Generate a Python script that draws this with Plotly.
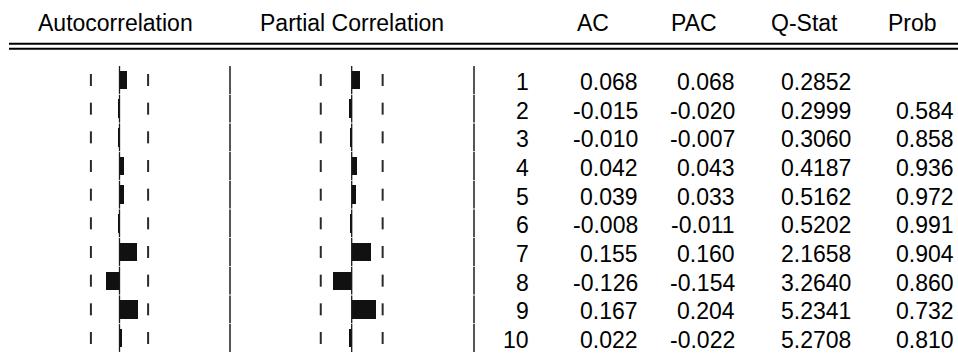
import plotly.graph_objects as go

# ---------------- data ----------------
lags = [1, 2, 3, 4, 5, 6, 7, 8, 9, 10]
ac = [0.068, -0.015, -0.010, 0.042, 0.039, -0.008, 0.155, -0.126, 0.167, 0.022]
pac = [0.068, -0.020, -0.007, 0.043, 0.033, -0.011, 0.160, -0.154, 0.204, -0.022]
q_stat = [0.2852, 0.2999, 0.3060, 0.4187, 0.5162, 0.5202, 2.1658, 3.2640, 5.2341, 5.2708]
prob = [None, 0.584, 0.858, 0.936, 0.972, 0.991, 0.904, 0.860, 0.732, 0.810]
conf_bound = 0.26
col_headers = ["AC", "PAC", "Q-Stat", "Prob"]
panel_headers = ["Autocorrelation", "Partial Correlation"]

# ---------------- layout constants (pixels) ----------------
W, H = 958, 353
row0_px, row_px = 80.0, 28.667          # centre of lag 1, row spacing
ac_zero_px, ac_scale = 119.5, 110.0     # px per unit correlation
pac_zero_px, pac_scale = 351.7, 119.0
sep_px = [230, 474]
lag_right, ac_right, pac_right, q_right, prob_right = 531, 640, 737, 853, 956
hdr_centres = [593, 694, 804, 912]
FONT = "Arial, Liberation Sans, sans-serif"
FS = 23

y_top = 1 - row0_px / row_px
y_bot = 1 + (H - row0_px) / row_px

fig = go.Figure()

# bars
fig.add_trace(go.Bar(x=ac, y=lags, orientation="h", width=0.64, base=0,
                     marker=dict(color="#111111", line=dict(width=0)),
                     xaxis="x", yaxis="y", hoverinfo="skip"))
fig.add_trace(go.Bar(x=pac, y=lags, orientation="h", width=0.64, base=0,
                     marker=dict(color="#111111", line=dict(width=0)),
                     xaxis="x2", yaxis="y", hoverinfo="skip"))


def segs(xval, half):
    xs, ys = [], []
    for l in lags:
        xs += [xval, xval, None]
        ys += [l - half, l + half, None]
    return xs, ys


# zero lines and confidence-bound ticks
for ax in ["x", "x2"]:
    xs, ys = segs(0, 0.485)
    fig.add_trace(go.Scatter(x=xs, y=ys, mode="lines", xaxis=ax, yaxis="y",
                             line=dict(color="#1a1a1a", width=1.3), hoverinfo="skip"))
    for sgn in (-1, 1):
        xs, ys = segs(sgn * conf_bound, 0.21)
        fig.add_trace(go.Scatter(x=xs, y=ys, mode="lines", xaxis=ax, yaxis="y",
                                 line=dict(color="#2a2a2a", width=2), hoverinfo="skip"))

# separators
for s in sep_px:
    xs, ys = segs(s, 0.485)
    fig.add_trace(go.Scatter(x=xs, y=ys, mode="lines", xaxis="x3", yaxis="y",
                             line=dict(color="#555555", width=2), hoverinfo="skip"))

ann = []
font = dict(family=FONT, size=FS, color="#000000")
for i, l in enumerate(lags):
    cells = [(lag_right, str(l)), (ac_right, f"{ac[i]:.3f}"),
             (pac_right, f"{pac[i]:.3f}"), (q_right, f"{q_stat[i]:.4f}"),
             (prob_right, "" if prob[i] is None else f"{prob[i]:.3f}")]
    for xr, t in cells:
        if t:
            ann.append(dict(x=xr, y=l, xref="x3", yref="y", text=t, showarrow=False,
                            xanchor="right", yanchor="middle", yshift=-2, font=font))

for c, t in zip(hdr_centres, col_headers):
    ann.append(dict(x=c, y=1 - 23 / H, xref="x3", yref="paper", text=t, showarrow=False,
                    xanchor="center", yanchor="middle", font=font))
for c, t in zip([ac_zero_px - 4, pac_zero_px], panel_headers):
    ann.append(dict(x=c, y=1 - 23 / H, xref="x3", yref="paper", text=t, showarrow=False,
                    xanchor="center", yanchor="middle", font=font))

shapes = []
for ypx in (43.7, 48.7):
    shapes.append(dict(type="line", xref="paper", yref="paper", x0=9 / W, x1=1,
                       y0=1 - ypx / H, y1=1 - ypx / H, line=dict(color="#000000", width=2)))

hidden = dict(visible=False, showgrid=False, zeroline=False, fixedrange=True)
fig.update_layout(
    width=W, height=H, margin=dict(l=0, r=0, t=0, b=0),
    paper_bgcolor="white", plot_bgcolor="white", showlegend=False,
    barmode="overlay", bargap=0,
    xaxis=dict(range=[-ac_zero_px / ac_scale, (W - ac_zero_px) / ac_scale], domain=[0, 1], **hidden),
    xaxis2=dict(range=[-pac_zero_px / pac_scale, (W - pac_zero_px) / pac_scale], overlaying="x", **hidden),
    xaxis3=dict(range=[0, W], overlaying="x", **hidden),
    yaxis=dict(range=[y_bot, y_top], domain=[0, 1], **hidden),
    annotations=ann, shapes=shapes,
)
fig.write_html("out.html")
